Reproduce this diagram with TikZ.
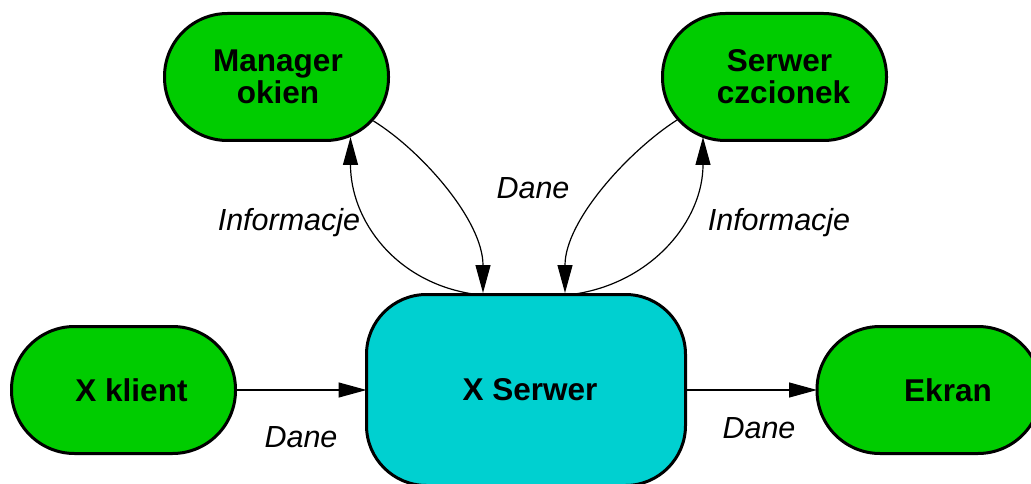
\documentclass[tikz,border=0pt]{standalone}
\usepackage{fontspec}
\setmainfont{Liberation Sans}
\usetikzlibrary{arrows.meta,calc}
\definecolor{boxgreen}{RGB}{0,204,0}
\definecolor{boxcyan}{RGB}{0,208,208}
\begin{document}
\begin{tikzpicture}[x=1pt,y=1pt,
  box/.style={draw=black, line width=3pt, inner sep=0pt, outer sep=0pt,
    font=\fontsize{31.5}{32}\selectfont\bfseries},
  gbox/.style={box, fill=boxgreen, rounded corners=63pt, minimum width=224pt, minimum height=127pt},
  cbox/.style={box, fill=boxcyan, rounded corners=60pt, minimum width=319pt, minimum height=191pt},
  conn/.style={line width=1.2pt, -{Triangle[length=28pt,width=15pt]}},
  lbl/.style={font=\fontsize{30.5}{32}\selectfont\itshape, anchor=base, inner sep=0pt}
]
\useasboundingbox (0,0) rectangle (1031,-484);
\node[gbox, align=center] (mo) at (276.5,-77) {\hspace*{3pt}Manager\\\hspace*{3pt}okien};
\node[gbox, align=center] (sc) at (774.5,-77) {\hspace*{10pt}Serwer\\\hspace*{18pt}czcionek};
\node[gbox] (xk) at (123.5,-390) {\hspace*{16pt}X klient};
\node[cbox] (xs) at (526,-390) {\hspace*{8pt}X Serwer};
\node[gbox] (ek) at (929,-390) {\hspace*{38pt}Ekran};

\draw[conn] ($(xs.center)+(-53,96)$) .. controls ($(xs.center)+(-131,108)$) and ($(mo.center)+(74,-143)$) .. ($(mo.center)+(74,-60)$);
\draw[conn] ($(mo.center)+(97,-44)$) .. controls ($(mo.center)+(144,-73)$) and ($(xs.center)+(-43,170)$) .. ($(xs.center)+(-43,97)$);
\draw[conn] ($(sc.center)+(-97.5,-43)$) .. controls ($(sc.center)+(-144.5,-73)$) and ($(xs.center)+(39,170)$) .. ($(xs.center)+(39,97)$);
\draw[conn] ($(xs.center)+(49,96)$) .. controls ($(xs.center)+(127,108)$) and ($(sc.center)+(-71.5,-143)$) .. ($(sc.center)+(-71.5,-60)$);
\draw[conn] (xk.east) -- (xs.west);
\draw[conn] (xs.east) -- (ek.west);

\node[lbl] (l1) at (289,-230) {Informacje};
\node[lbl] (l2) at (533,-198) {Dane};
\node[lbl] (l3) at (779,-230) {Informacje};
\node[lbl] (l4) at (301,-447) {Dane};
\node[lbl] (l5) at (759,-438) {Dane};
\end{tikzpicture}
\end{document}
